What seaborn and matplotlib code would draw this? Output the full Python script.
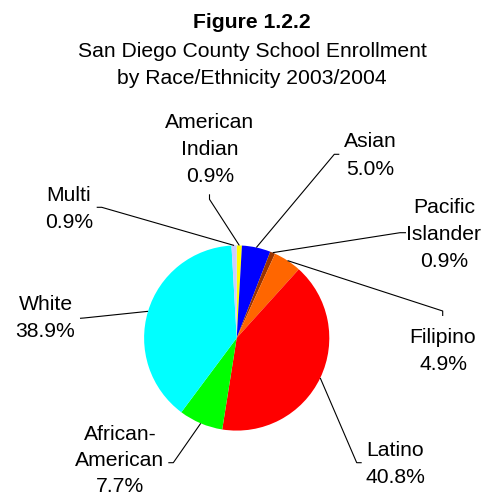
import numpy as np
import matplotlib
matplotlib.use("Agg")
import matplotlib.pyplot as plt
import seaborn as sns

sns.set_theme(style="white")
plt.rcParams["font.family"] = ["Liberation Sans", "DejaVu Sans"]

# Enrollment share by group, clockwise from 12 o'clock
groups = ["American Indian", "Asian", "Pacific Islander", "Filipino",
          "Latino", "African-American", "White", "Multi"]
shares = [0.9, 5.0, 0.9, 4.9, 40.8, 7.7, 38.9, 0.9]
label_lines = [["American", "Indian"], ["Asian"], ["Pacific", "Islander"],
               ["Filipino"], ["Latino"], ["African-", "American"],
               ["White"], ["Multi"]]
colors = ["#FFFF00", "#0000FF", "#993300", "#FF6600",
          "#FF0000", "#00FF00", "#00FFFF", "#CCCCFF"]

title_lines = ["Figure 1.2.2",
               "San Diego County School Enrollment",
               "by Race/Ethnicity 2003/2004"]

W, H = 487, 497
fig = plt.figure(figsize=(W / 100, H / 100), dpi=100)
fig.patch.set_facecolor("white")
ax = fig.add_axes([0, 0, 1, 1])


def px(x, y):
    """Pixel position (origin top-left) to axes data coordinates."""
    return x, H - y


cx, cy = px(236.7, 338.0)
wedges, _ = ax.pie(shares, colors=colors, startangle=90, counterclock=False,
                   center=(cx, cy), radius=92.6,
                   wedgeprops=dict(linewidth=0, antialiased=True))
ax.set_xlim(0, W)
ax.set_ylim(0, H)
ax.set_aspect("equal")
ax.axis("off")

FS = 15.2
# label block: centre x, first baseline y, line step, leader path from label side
layout = [
    (210.0, 127.6, 27.3, [(209.5, 194.3), (209.5, 199.3)]),
    (370.5, 147.3, 27.3, [(339.3, 154.3), (334.3, 154.3)]),
    (444.0, 212.7, 27.3, [(406.0, 232.7), (400.0, 232.7)]),
    (443.0, 342.7, 27.3, [(442.7, 316.0), (442.7, 311.0)]),
    (395.0, 456.0, 27.3, [(361.7, 462.7), (356.7, 462.7)]),
    (120.0, 440.5, 26.0, [(168.3, 462.7), (173.3, 462.7)]),
    (45.5, 310.0, 27.3, [(80.0, 318.3), (84.0, 318.0)]),
    (69.0, 200.7, 27.3, [(96.7, 207.3), (101.7, 207.3)]),
]

for w, name_lines, share, (lx, ly, step, path) in zip(wedges, label_lines, shares, layout):
    lines = name_lines + [f"{share:.1f}%"]
    for i, s in enumerate(lines):
        x, y = px(lx, ly + i * step)
        ax.text(x, y, s, ha="center", va="baseline", fontsize=FS, color="black")
    mid = np.deg2rad((w.theta1 + w.theta2) / 2)
    ex = w.center[0] + w.r * np.cos(mid)
    ey = w.center[1] + w.r * np.sin(mid)
    pts = [px(*p) for p in path] + [(ex, ey)]
    xs, ys = zip(*pts)
    ax.plot(xs, ys, color="black", lw=0.8, solid_capstyle="butt", zorder=3)

title_baselines = [28.5, 56.7, 83.5]
for i, (s, yb) in enumerate(zip(title_lines, title_baselines)):
    x, y = px(252.0, yb)
    ax.text(x, y, s, ha="center", va="baseline", fontsize=FS,
            fontweight="bold" if i == 0 else "normal", color="black")

fig.savefig("out.png", dpi=100, facecolor="white")
